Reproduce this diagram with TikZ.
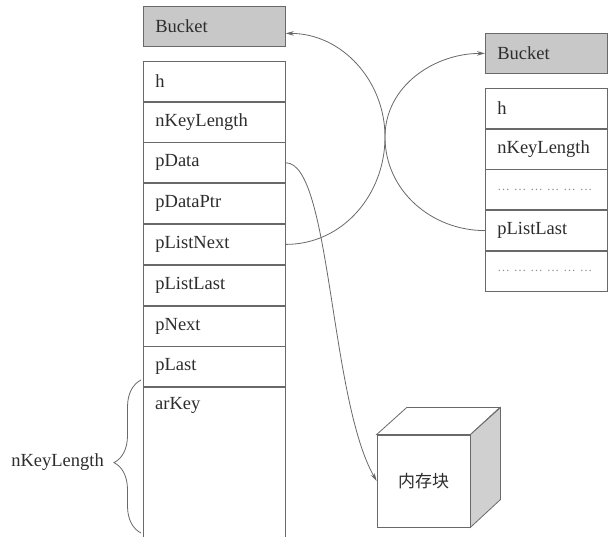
\documentclass[tikz,border=0pt]{standalone}
\usepackage{fontspec}
\setmainfont{Liberation Serif}
\newfontfamily\cjk{Noto Sans CJK SC}
\usetikzlibrary{positioning,arrows.meta,decorations.pathreplacing}
\definecolor{lineColor}{RGB}{105,105,105}
\definecolor{textColor}{RGB}{45,45,45}
\definecolor{headColor}{RGB}{200,200,200}
\definecolor{sideColor}{RGB}{208,208,208}
\definecolor{dotColor}{RGB}{140,140,140}
\newcommand{\fieldfont}{\fontsize{18.5}{22}\selectfont}
\newcommand{\dotgroup}{…\hspace{4pt}}
\newcommand{\dotrow}{{\color{dotColor}\fontsize{12.5}{20}\selectfont
  \dotgroup\dotgroup\dotgroup\dotgroup\dotgroup…}}
\tikzset{
  cell/.style={draw=lineColor, line width=0.8pt, minimum width=142pt, minimum height=40pt,
    text width=118pt, inner xsep=12pt, inner ysep=0pt, align=left, font=\fieldfont, text=textColor},
  headcell/.style={cell, fill=headColor},
  cellR/.style={cell, minimum width=122pt, text width=98pt},
  headcellR/.style={cellR, fill=headColor},
  ptr/.style={draw=lineColor, line width=0.8pt, -{Stealth[length=8pt,width=4.5pt]}},
}
\begin{document}
\begin{tikzpicture}[x=1pt,y=1pt]
\path[use as bounding box,fill=white] (0,0) rectangle (608,536);
\clip (0,0) rectangle (608,536);

% left bucket
\node[headcell,anchor=north west] (bucketA) at (143,530) {Bucket};
\node[cell,below=14pt of bucketA] (hA) {h};
\node[cell,below=0pt of hA] (lenA) {nKeyLength};
\node[cell,below=0pt of lenA] (dataA) {pData};
\node[cell,below=0pt of dataA] (dataPtrA) {pDataPtr};
\node[cell,below=0pt of dataPtrA] (nextListA) {pListNext};
\node[cell,below=0pt of nextListA] (lastListA) {pListLast};
\node[cell,below=0pt of lastListA] (nextA) {pNext};
\node[cell,below=0pt of nextA] (lastA) {pLast};
\node[cell,below=0pt of lastA,minimum height=170pt,
  label={[anchor=north west,inner xsep=12pt,inner ysep=10pt,font=\fieldfont,text=textColor]north west:arKey}] (keyA) {};

% right bucket
\node[headcellR,anchor=north west] (bucketB) at (485,503) {Bucket};
\node[cellR,below=14pt of bucketB] (hB) {h};
\node[cellR,below=0pt of hB] (lenB) {nKeyLength};
\node[cellR,below=0pt of lenB] (dotsB) {\dotrow};
\node[cellR,below=0pt of dotsB] (lastListB) {pListLast};
\node[cellR,below=0pt of lastListB] (moreB) {\dotrow};

% memory block
\node[draw=lineColor,line width=0.8pt,fill=white,minimum width=93pt,minimum height=92pt,
  font=\cjk\fontsize{17}{20}\selectfont,text=textColor] (mem) at (423.5,55) {内存块};
\draw[lineColor,line width=0.8pt,fill=white] (mem.north west) -- ++(30,27) -- ++(93,0) -- (mem.north east) -- cycle;
\draw[lineColor,line width=0.8pt,fill=sideColor] (mem.north east) -- ++(30,27) -- ++(0,-92) -- (mem.south east) -- cycle;

% brace
\coordinate (braceTop) at (141,156);
\coordinate (braceBot) at (141,3);
\draw[lineColor,line width=0.8pt,decorate,decoration={brace,amplitude=27pt,aspect=0.46}] (braceBot) -- (braceTop);
\node[anchor=east,font=\fieldfont,text=textColor,inner sep=0pt] (keyLen) at (104,74) {nKeyLength};

% pointers
\coordinate (kiss) at (385,399);
\draw[ptr] (nextListA.east) to[out=0,in=-90] (kiss) to[out=90,in=180] (bucketB.west);
\draw[ptr] (lastListB.west) to[out=180,in=-90] (kiss) to[out=90,in=0] ([yshift=-7pt]bucketA.east);
\draw[ptr] (dataA.east) .. controls +(45,0) and +(-47,82) .. (mem.west);
\end{tikzpicture}
\end{document}
